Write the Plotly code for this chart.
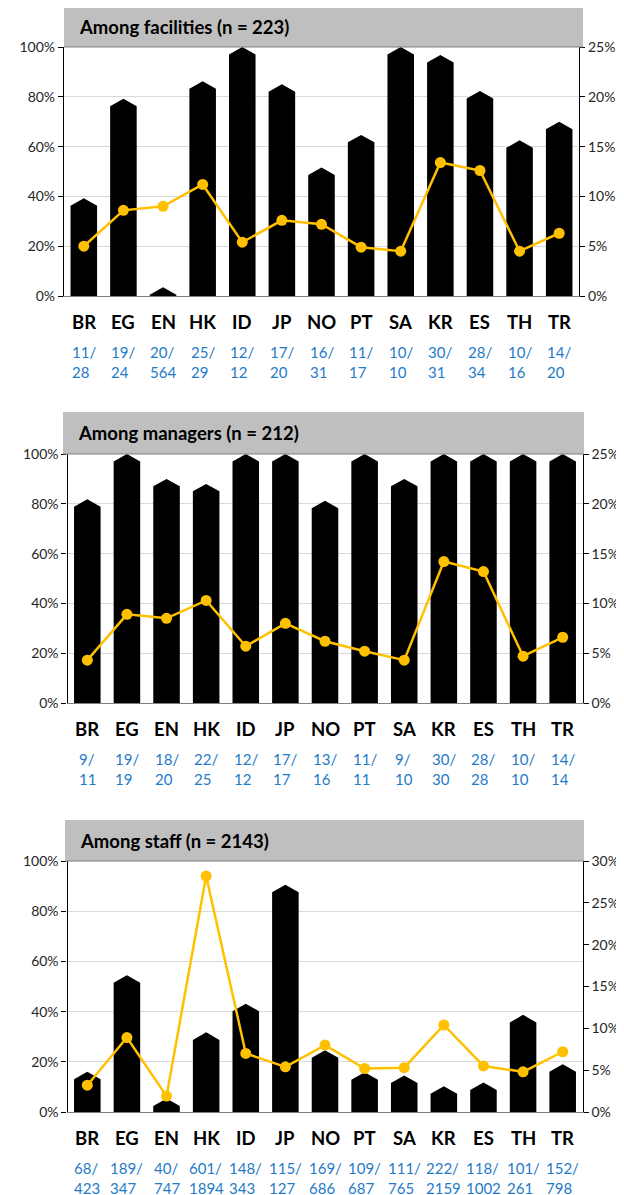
import plotly.graph_objects as go

countries = ["BR", "EG", "EN", "HK", "ID", "JP", "NO", "PT", "SA", "KR", "ES", "TH", "TR"]

# facilities
fac_num = [11, 19, 20, 25, 12, 17, 16, 11, 10, 30, 28, 10, 14]
fac_den = [28, 24, 564, 29, 12, 20, 31, 17, 10, 31, 34, 16, 20]
fac_line = [5.0, 8.6, 9.0, 11.2, 5.4, 7.6, 7.2, 4.9, 4.5, 13.4, 12.6, 4.5, 6.3]

# managers
man_num = [9, 19, 18, 22, 12, 17, 13, 11, 9, 30, 28, 10, 14]
man_den = [11, 19, 20, 25, 12, 17, 16, 11, 10, 30, 28, 10, 14]
man_line = [4.3, 8.9, 8.5, 10.3, 5.7, 8.0, 6.2, 5.2, 4.3, 14.2, 13.2, 4.7, 6.6]

# staff
stf_num = [68, 189, 40, 601, 148, 115, 169, 109, 111, 222, 118, 101, 152]
stf_den = [423, 347, 747, 1894, 343, 127, 686, 687, 765, 2159, 1002, 261, 798]
stf_line = [3.2, 8.9, 1.9, 28.2, 7.0, 5.4, 8.0, 5.2, 5.3, 10.4, 5.5, 4.8, 7.2]

# panel boxes in page pixels (left, top, right, bottom)
panels = [
    dict(title="Among facilities (n = 223)", num=fac_num, den=fac_den, line=fac_line, rmax=25,
         box=(64, 7, 583, 47), plot=(64, 47, 579, 296)),
    dict(title="Among managers (n = 212)", num=man_num, den=man_den, line=man_line, rmax=25,
         box=(63, 412, 584, 454), plot=(67.5, 454, 582.5, 703)),
    dict(title="Among staff (n = 2143)", num=stf_num, den=stf_den, line=stf_line, rmax=30,
         box=(65, 820, 584, 861), plot=(67.5, 861, 582.5, 1112)),
]

PAGE_OFF = 8   # default body margin of the html page
W, H = 624 - PAGE_OFF, 1195 - PAGE_OFF
FONT = "Lato"
BLUE = "#1F7BC8"
GOLD = "#FFC000"
HALF = 0.335   # half bar width in category units
TIP = 3.0      # height of pointed top, in % of left axis


def px(x):
    return (x - PAGE_OFF) / W


def py(y):
    return 1 - (y - PAGE_OFF) / H


fig = go.Figure()
layout = {}
shapes = []
annotations = []

for k, p in enumerate(panels, start=1):
    xa = "x" if k == 1 else f"x{k}"
    yl_n = 2 * k - 1
    yr_n = 2 * k
    yl = "y" if yl_n == 1 else f"y{yl_n}"
    yr = f"y{yr_n}"

    pct = [100 * n / d for n, d in zip(p["num"], p["den"])]
    bx, by = [], []
    for i, v in enumerate(pct):
        s = max(v - TIP, 0)
        bx += [i - HALF, i - HALF, i, i + HALF, i + HALF, i - HALF, None]
        by += [0, s, v, s, 0, 0, None]
    fig.add_trace(go.Scatter(x=bx, y=by, fill="toself", fillcolor="black", mode="lines",
                             line=dict(width=0, color="black"), hoverinfo="skip",
                             showlegend=False, xaxis=xa, yaxis=yl))
    fig.add_trace(go.Scatter(x=list(range(len(countries))), y=p["line"], mode="lines+markers",
                             line=dict(color=GOLD, width=2.5), marker=dict(color=GOLD, size=11),
                             showlegend=False, xaxis=xa, yaxis=yr))

    x0, y0, x1, y1 = p["plot"]
    xdom = [px(x0), px(x1)]
    ydom = [py(y1), py(y0)]
    layout["xaxis" if k == 1 else f"xaxis{k}"] = dict(
        domain=xdom, range=[-0.5, len(countries) - 0.5], anchor=yl, showticklabels=False,
        showgrid=False, zeroline=False, showline=True, linecolor="#7F7F7F", linewidth=1.2,
        fixedrange=True, automargin=False)
    layout["yaxis" if yl_n == 1 else f"yaxis{yl_n}"] = dict(
        domain=ydom, range=[0, 100], dtick=20, ticksuffix="%", anchor=xa, showline=True,
        linecolor="black", linewidth=1.2, ticks="outside", ticklen=5, tickcolor="black",
        showgrid=True, gridcolor="#D9D9D9", gridwidth=1.2, zeroline=False, automargin=False,
        tickfont=dict(size=14, color="#262626", family=FONT))
    layout[f"yaxis{yr_n}"] = dict(
        range=[0, p["rmax"]], dtick=5, ticksuffix="%", anchor=xa, overlaying=yl, side="right",
        showline=True, linecolor="black", linewidth=1.2, ticks="outside", ticklen=5,
        tickcolor="black", showgrid=False, zeroline=False, automargin=False,
        tickfont=dict(size=14, color="#262626", family=FONT))

    bx0, by0, bx1, by1 = p["box"]
    shapes.append(dict(type="rect", xref="paper", yref="paper", x0=px(bx0), x1=px(bx1),
                       y0=py(by1), y1=py(by0), fillcolor="#BFBFBF",
                       line=dict(width=0), layer="below"))
    shapes.append(dict(type="line", xref="paper", yref="paper", x0=px(bx0), x1=px(bx1),
                       y0=py(by1), y1=py(by1), line=dict(color="#808080", width=1.2)))
    annotations.append(dict(text=f"<b>{p['title']}</b>", xref="paper", yref="paper",
                            x=px(bx0 + 13), y=py((by0 + by1) / 2), xanchor="left",
                            yanchor="middle", showarrow=False,
                            font=dict(size=18.5, color="black", family=FONT)))

    for i, c in enumerate(countries):
        annotations.append(dict(text=f"<b>{c}</b>", xref=xa, yref="paper", x=i,
                                y=py(y1 + 26), xanchor="center", yanchor="middle",
                                showarrow=False, font=dict(size=18.5, color="black", family=FONT)))
        annotations.append(dict(text=f"{p['num'][i]}/<br>{p['den'][i]}", xref=xa, yref="paper",
                                x=i, y=py(y1 + 66), xanchor="center", yanchor="middle",
                                align="left", showarrow=False,
                                font=dict(size=15, color=BLUE, family=FONT)))

fig.update_layout(width=W, height=H, margin=dict(l=0, r=0, t=0, b=0, autoexpand=False),
                  paper_bgcolor="white", plot_bgcolor="rgba(0,0,0,0)",
                  font=dict(family=FONT), shapes=shapes, annotations=annotations, **layout)

fig.write_html("out.html")
